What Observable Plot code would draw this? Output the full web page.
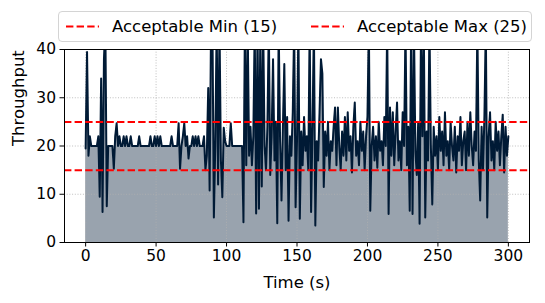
<!DOCTYPE html>
<html><head><meta charset="utf-8">
<script src="https://cdn.jsdelivr.net/npm/d3@7"></script>
<script src="https://cdn.jsdelivr.net/npm/@observablehq/plot@0.6"></script>
<style>
body{margin:0;background:#fff;font-family:"DejaVu Sans",sans-serif;}
#wrap{position:relative;width:545px;height:303px;overflow:hidden;}
#legend{position:absolute;left:58px;top:11px;width:474px;height:31px;border:1px solid #d4d4d4;border-radius:4px;background:rgba(255,255,255,0.85);font-size:16.5px;z-index:2;box-sizing:border-box;}
.item{position:absolute;top:0;height:29px;display:flex;align-items:center;white-space:nowrap;}
.sw{position:absolute;top:0;}
</style></head><body>
<div id="wrap"><div id="legend"></div><div id="chart"></div></div>
<script>
// Sampling: one reading per second starting at t = 0 s
const startTime = 0;
const stepSeconds = 1;
const throughput = [
  19.5, 39.5, 18, 22, 20, 20, 20, 20, 20, 22,
  9.5, 34, 6.3, 38, 45, 7.5, 20, 20, 20, 20,
  15.3, 22, 24.7, 20, 22, 20, 20, 22, 20, 22,
  20, 20, 22, 20, 20, 20, 20, 20, 22, 20,
  20, 20, 20, 20, 20, 20, 22, 20, 20, 22,
  20, 22, 20, 22, 20, 20, 20, 20, 20, 20,
  20, 22, 20, 20, 20, 20, 24.7, 15.3, 20, 22,
  24.7, 20, 22, 17.4, 20, 20, 22, 20, 22, 20,
  22, 20, 20, 20, 22, 15, 18, 32, 10.8, 45,
  45, 5.2, 20, 45, 12, 45, 17, 9.4, 23.8, 21,
  20, 20, 20, 24.7, 20, 20, 20, 20, 20, 20,
  20, 20, 4.2, 45, 16, 45, 18, 24, 16, 22,
  45, 6, 45, 7, 45, 11.6, 45, 20, 15, 24,
  45, 14, 22, 38, 17, 25, 4, 45, 21, 8.7,
  24, 37, 15, 26, 4.5, 22, 18, 27, 45, 7.3,
  21, 45, 4.9, 23, 16, 26, 19, 22, 15, 45,
  6.3, 24, 45, 3.5, 21, 17, 27, 38, 35, 11.5,
  23, 18, 25, 15, 21, 19, 24, 28, 16, 28,
  20, 15, 23, 18, 26, 17, 27, 19, 22, 14.5,
  24, 29, 18, 21, 16, 25, 19, 23, 15, 22,
  26, 45, 6.6, 20, 24, 17, 22, 15.5, 25, 19,
  21, 16, 26, 20, 45, 5.9, 28, 18, 27, 16,
  23, 29, 17, 21, 15, 27, 20, 45, 16, 24,
  6.6, 45, 5.9, 45, 19, 14, 25, 3.9, 45, 22,
  45, 5.2, 23, 17, 45, 20, 7.9, 24, 18, 22,
  15, 26, 19, 23, 16, 27, 18, 21, 15, 25,
  20, 17, 24, 14.5, 22, 19, 26, 16, 21, 23,
  15, 25, 18, 27, 20, 16, 23, 19, 45, 17,
  8.7, 24, 15, 26, 45, 5.2, 22, 27, 17, 21,
  15, 25, 19, 23, 16, 22, 26.5, 14.5, 24, 18,
  22
];
const limitValues = [15, 25];
const limitLabels = ["Acceptable Min (15)", "Acceptable Max (25)"];
const xTicks = [0, 50, 100, 150, 200, 250, 300];
const yTicks = [0, 10, 20, 30, 40];

const data = throughput.map((v, i) => ({t: startTime + i * stepSeconds, v}));
const navy = "#001a35";

const chart = Plot.plot({
  width: 545, height: 303,
  marginTop: 49, marginBottom: 61, marginLeft: 64, marginRight: 16,
  style: {fontFamily: "DejaVu Sans, sans-serif", fontSize: "15.5px", color: "black", background: "white", overflow: "visible"},
  x: {domain: [-15, 315], ticks: xTicks, label: null},
  y: {domain: [0, 40], ticks: yTicks, label: null},
  marks: [
    Plot.areaY(data, {x: "t", y: "v", fill: navy, fillOpacity: 0.4, clip: true}),
    Plot.gridX(xTicks, {stroke: "#b0b0b0", strokeOpacity: 0.8, strokeDasharray: "1,1.7"}),
    Plot.gridY(yTicks, {stroke: "#b0b0b0", strokeOpacity: 0.8, strokeDasharray: "1,1.7"}),
    Plot.lineY(data, {x: "t", y: "v", stroke: navy, strokeWidth: 2, clip: true}),
    Plot.ruleY(limitValues, {stroke: "red", strokeWidth: 2, strokeDasharray: "7.4,3.2"}),
    Plot.frame({stroke: "black", strokeWidth: 1}),
    Plot.axisX(xTicks, {tickSize: 4.5, tickPadding: 3, fontSize: 15.5, label: null}),
    Plot.axisY(yTicks, {tickSize: 4.5, tickPadding: 4, fontSize: 15.5, label: null}),
    Plot.text(["Throughput"], {frameAnchor: "left", dx: -46, rotate: -90, fontSize: 16.5, fill: "black"}),
    Plot.text(["Time (s)"], {frameAnchor: "bottom", dy: 45, fontSize: 16.5, fill: "black"})
  ]
});
document.getElementById("chart").appendChild(chart);

// Legend
const legend = document.getElementById("legend");
const swatchX = [7, 252];
const textX = [53, 298];
limitLabels.forEach((lab, i) => {
  const sw = document.createElementNS("http://www.w3.org/2000/svg", "svg");
  sw.setAttribute("width", 36); sw.setAttribute("height", 29);
  sw.setAttribute("class", "sw");
  sw.style.left = swatchX[i] + "px";
  const ln = document.createElementNS("http://www.w3.org/2000/svg", "line");
  ln.setAttribute("x1", 0); ln.setAttribute("x2", 33);
  ln.setAttribute("y1", 14.5); ln.setAttribute("y2", 14.5);
  ln.setAttribute("stroke", "red"); ln.setAttribute("stroke-width", 2);
  ln.setAttribute("stroke-dasharray", "7.4,3.2");
  sw.appendChild(ln);
  legend.appendChild(sw);
  const tx = document.createElement("div");
  tx.className = "item";
  tx.style.left = textX[i] + "px";
  tx.textContent = lab;
  legend.appendChild(tx);
});
</script>
</body></html>
